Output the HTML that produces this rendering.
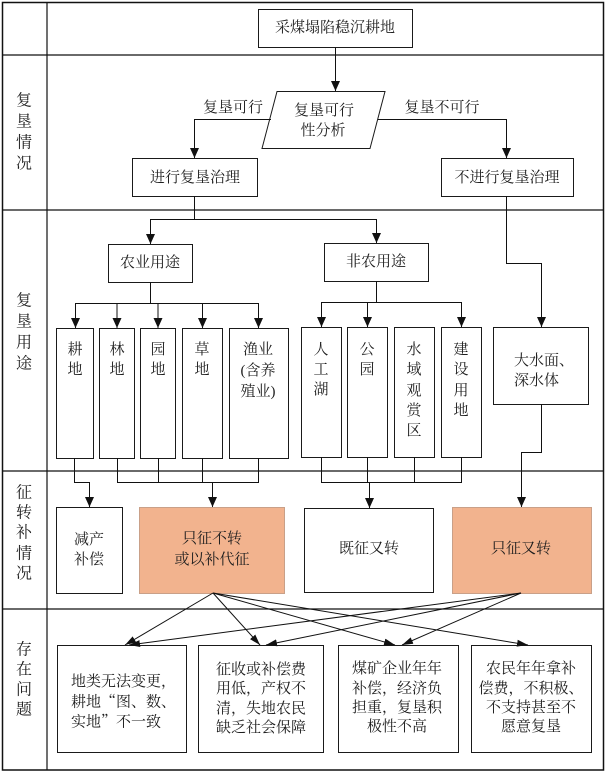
<!DOCTYPE html>
<html><head><meta charset="utf-8"><style>
html,body{margin:0;padding:0;background:#fff;}
svg{display:block;}
text{font-family:"Liberation Serif","Noto Serif CJK SC",serif;font-size:15px;fill:#1e1e1e;dominant-baseline:central;text-anchor:middle;}
.lb{font-size:16px;}
.st{text-anchor:start;}
.cj{font-family:"Noto Serif CJK SC","Noto Sans CJK SC",serif;}
</style></head><body>
<svg width="608" height="773" viewBox="0 0 608 773" xmlns="http://www.w3.org/2000/svg">
<defs>
<marker id="av" markerUnits="userSpaceOnUse" markerWidth="10" markerHeight="10" viewBox="0 0 10 10" refX="10" refY="5" orient="auto">
<path d="M0,0.5 L10,5 L0,9.5 z" fill="#111"/></marker>
<marker id="ad" markerUnits="userSpaceOnUse" markerWidth="11" markerHeight="8" viewBox="0 0 11 8" refX="11" refY="4" orient="auto">
<path d="M0,0.5 L11,4 L0,7.5 z" fill="#111"/></marker>
</defs>
<g fill="none" stroke="#111" stroke-width="1.2">
<rect x="2.5" y="2.5" width="601" height="767.5" stroke-width="1.5"/>
<line x1="47" y1="2.5" x2="47" y2="770"/>
<line x1="2.5" y1="55" x2="603.5" y2="55"/>
<line x1="2.5" y1="210" x2="603.5" y2="210"/>
<line x1="2.5" y1="471" x2="603.5" y2="471"/>
<line x1="2.5" y1="609" x2="603.5" y2="609"/>
</g>
<g fill="none" stroke="#1a1a1a" stroke-width="1">
<rect x="258.5" y="9.5" width="154" height="38"/>
<polygon points="277,91.5 385,91.5 370,148.5 262,148.5"/>
<rect x="132.5" y="158.5" width="125" height="38"/>
<rect x="441.5" y="158.5" width="132" height="38"/>
<rect x="108.5" y="244.5" width="84" height="38"/>
<rect x="324.5" y="243.5" width="104" height="38"/>
<rect x="493.5" y="327.5" width="95" height="77"/>
<rect x="56.5" y="328.5" width="37" height="130"/>
<rect x="99.5" y="328.5" width="35" height="130"/>
<rect x="140.5" y="328.5" width="35" height="130"/>
<rect x="182.5" y="328.5" width="40" height="130"/>
<rect x="229.5" y="328.5" width="59" height="130"/>
<rect x="301.5" y="327.5" width="40" height="130"/>
<rect x="347.5" y="327.5" width="40" height="130"/>
<rect x="394.5" y="327.5" width="40" height="130"/>
<rect x="441.5" y="327.5" width="40" height="130"/>
<rect x="56.5" y="507.5" width="66" height="86"/>
<rect x="139.5" y="507.5" width="145" height="86" fill="#F2B38E" stroke="#c9a088"/>
<rect x="304.5" y="508.5" width="129" height="84"/>
<rect x="452.5" y="507.5" width="139" height="86" fill="#F2B38E" stroke="#c9a088"/>
<rect x="57.5" y="645.5" width="129" height="107"/>
<rect x="198.5" y="645.5" width="125" height="107"/>
<rect x="338.5" y="645.5" width="120" height="107"/>
<rect x="471.5" y="645.5" width="120" height="107"/>
</g>
<g fill="none" stroke="#111" stroke-width="1">
<line x1="335.5" y1="47" x2="335.5" y2="91" marker-end="url(#av)"/>
<polyline points="271,119.5 194.5,119.5 194.5,158" marker-end="url(#av)"/>
<polyline points="378,119.5 506.5,119.5 506.5,158" marker-end="url(#av)"/>
<line x1="194.5" y1="196" x2="194.5" y2="219.5"/>
<line x1="150" y1="219.5" x2="377" y2="219.5"/>
<line x1="150.5" y1="219" x2="150.5" y2="244" marker-end="url(#av)"/>
<line x1="376.5" y1="219" x2="376.5" y2="243" marker-end="url(#av)"/>
<polyline points="506.5,196 506.5,263.5 541.5,263.5 541.5,327" marker-end="url(#av)"/>
<line x1="150.5" y1="282" x2="150.5" y2="303.5"/>
<line x1="75" y1="303.5" x2="259" y2="303.5"/>
<line x1="75.5" y1="303" x2="75.5" y2="328" marker-end="url(#av)"/>
<line x1="117" y1="303" x2="117" y2="328" marker-end="url(#av)"/>
<line x1="158" y1="303" x2="158" y2="328" marker-end="url(#av)"/>
<line x1="202.5" y1="303" x2="202.5" y2="328" marker-end="url(#av)"/>
<line x1="258.5" y1="303" x2="258.5" y2="328" marker-end="url(#av)"/>
<line x1="376.5" y1="281" x2="376.5" y2="302.5"/>
<line x1="321" y1="302.5" x2="462" y2="302.5"/>
<line x1="321.5" y1="302" x2="321.5" y2="327" marker-end="url(#av)"/>
<line x1="367.5" y1="302" x2="367.5" y2="327" marker-end="url(#av)"/>
<line x1="461.5" y1="302" x2="461.5" y2="327" marker-end="url(#av)"/>
<polyline points="74.5,458 74.5,482.5 89.5,482.5 89.5,507" marker-end="url(#av)"/>
<line x1="117.5" y1="458" x2="117.5" y2="482.5"/>
<line x1="158.5" y1="458" x2="158.5" y2="482.5"/>
<line x1="202.5" y1="458" x2="202.5" y2="482.5"/>
<line x1="258.5" y1="458" x2="258.5" y2="482.5"/>
<line x1="117" y1="482.5" x2="259" y2="482.5"/>
<line x1="212.5" y1="482" x2="212.5" y2="507" marker-end="url(#av)"/>
<line x1="321.5" y1="457" x2="321.5" y2="482.5"/>
<line x1="367.5" y1="457" x2="367.5" y2="482.5"/>
<line x1="414.5" y1="457" x2="414.5" y2="482.5"/>
<line x1="461.5" y1="457" x2="461.5" y2="482.5"/>
<line x1="321" y1="482.5" x2="462" y2="482.5"/>
<line x1="369.5" y1="482" x2="369.5" y2="508" marker-end="url(#av)"/>
<polyline points="541.5,404 541.5,452.5 521.5,452.5 521.5,507" marker-end="url(#av)"/>
<line x1="213" y1="593" x2="125" y2="645" marker-end="url(#ad)"/>
<line x1="213" y1="593" x2="260" y2="645" marker-end="url(#ad)"/>
<line x1="213" y1="593" x2="395" y2="645" marker-end="url(#ad)"/>
<line x1="213" y1="593" x2="528" y2="645" marker-end="url(#ad)"/>
<line x1="521" y1="593" x2="129" y2="645" marker-end="url(#ad)"/>
<line x1="521" y1="593" x2="266" y2="645" marker-end="url(#ad)"/>
<line x1="521" y1="593" x2="402" y2="645" marker-end="url(#ad)"/>
</g>
<text class="lb" x="24" y="101">复</text>
<text class="lb" x="24" y="122">垦</text>
<text class="lb" x="24" y="143">情</text>
<text class="lb" x="24" y="164">况</text>
<text class="lb" x="24" y="301">复</text>
<text class="lb" x="24" y="322">垦</text>
<text class="lb" x="24" y="343">用</text>
<text class="lb" x="24" y="364">途</text>
<text class="lb" x="24" y="493">征</text>
<text class="lb" x="24" y="513">转</text>
<text class="lb" x="24" y="533">补</text>
<text class="lb" x="24" y="554">情</text>
<text class="lb" x="24" y="574">况</text>
<text class="lb" x="24" y="650">存</text>
<text class="lb" x="24" y="670">在</text>
<text class="lb" x="24" y="690">问</text>
<text class="lb" x="24" y="710">题</text>
<text x="335" y="28">采煤塌陷稳沉耕地</text>
<text x="324" y="111">复垦可行</text>
<text x="323" y="131">性分析</text>
<text x="233" y="108">复垦可行</text>
<text x="442" y="108">复垦不可行</text>
<text x="195" y="178">进行复垦治理</text>
<text x="507" y="178">不进行复垦治理</text>
<text x="150" y="263">农业用途</text>
<text x="376" y="262">非农用途</text>
<text x="75" y="350">耕</text><text x="75" y="370">地</text>
<text x="117" y="350">林</text><text x="117" y="370">地</text>
<text x="158" y="350">园</text><text x="158" y="370">地</text>
<text x="202" y="350">草</text><text x="202" y="370">地</text>
<text x="258" y="350">渔业</text>
<text x="258" y="371">(含养</text>
<text x="258" y="392">殖业)</text>
<text x="321" y="350">人</text><text x="321" y="370">工</text><text x="321" y="390">湖</text>
<text x="367" y="350">公</text><text x="367" y="370">园</text>
<text x="414" y="350">水</text><text x="414" y="370">域</text><text x="414" y="391">观</text><text x="414" y="411">赏</text><text x="414" y="431">区</text>
<text x="461" y="350">建</text><text x="461" y="370">设</text><text x="461" y="391">用</text><text x="461" y="411">地</text>
<text class="st" x="514" y="361">大水面、</text>
<text class="st" x="514" y="381">深水体</text>
<text x="89" y="540">减产</text>
<text x="89" y="560">补偿</text>
<text x="212" y="539">只征不转</text>
<text x="212" y="560">或以补代征</text>
<text x="369" y="549">既征又转</text>
<text x="521" y="549">只征又转</text>
<text class="st" x="71" y="682">地类无法变更，</text>
<text class="st cj" x="71" y="701">耕地“图、数、</text>
<text class="st cj" x="71" y="721">实地”不一致</text>
<text x="261" y="670">征收或补偿费</text>
<text x="261" y="689">用低，产权不</text>
<text x="261" y="709">清，失地农民</text>
<text x="261" y="728">缺乏社会保障</text>
<text x="397" y="669">煤矿企业年年</text>
<text x="397" y="689">补偿，经济负</text>
<text x="397" y="708">担重，复垦积</text>
<text x="397" y="727">极性不高</text>
<text x="531" y="669">农民年年拿补</text>
<text x="531" y="689">偿费，不积极、</text>
<text x="531" y="708">不支持甚至不</text>
<text x="531" y="727">愿意复垦</text>
</svg>
</body></html>
